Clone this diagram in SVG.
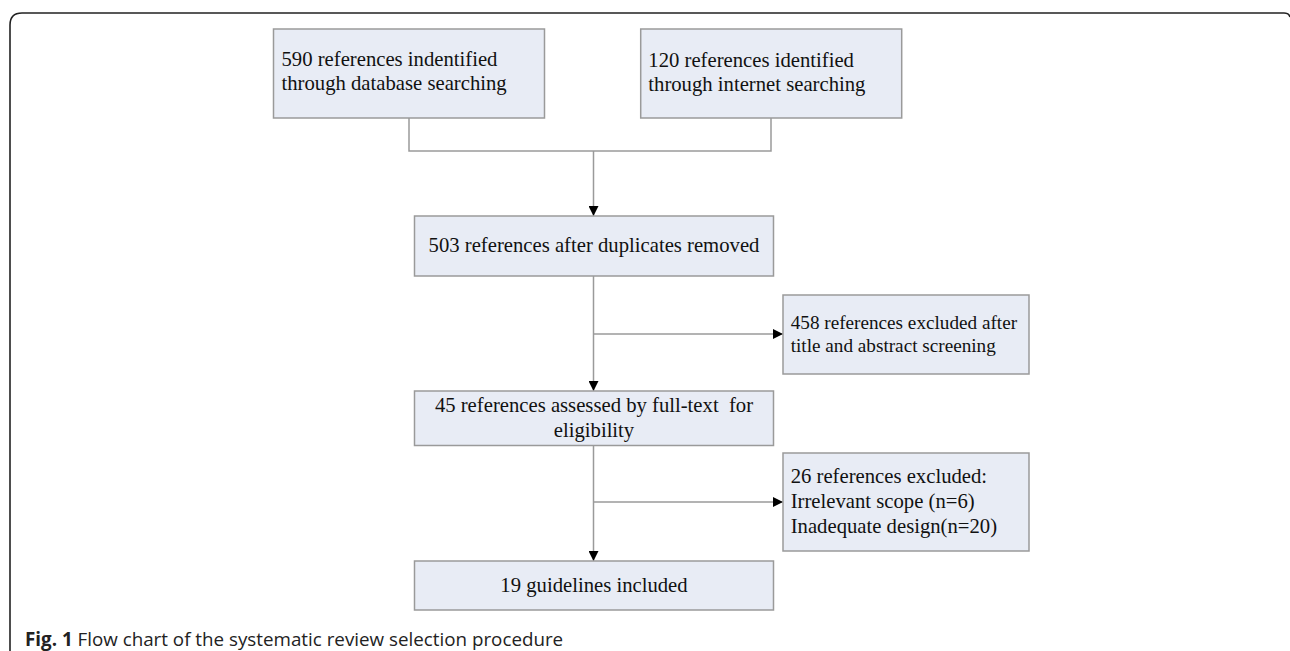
<svg xmlns="http://www.w3.org/2000/svg" width="1290" height="651" viewBox="0 0 1290 651">
<defs>
<style>
.box{fill:#e8ecf5;stroke:#9a9a9a;stroke-width:1.5}
.t{font-family:"Liberation Serif","Times New Roman",serif;font-size:20.7px;fill:#111}
.s{font-size:19.2px}
.c{fill:none;stroke:#9a9a9a;stroke-width:1.5}
.cap{font-family:"Open Sans","Noto Sans",sans-serif;font-size:18.8px;fill:#222}
</style>
<marker id="ah" viewBox="0 0 10 10" refX="10" refY="5" markerWidth="10" markerHeight="10" markerUnits="userSpaceOnUse" orient="auto">
<path d="M0,0 L10,5 L0,10 z" fill="#000"/>
</marker>
</defs>
<rect width="1290" height="651" fill="#fff"/>
<path d="M10,651 V25 Q10,13 22,13 H1284 Q1289,13 1290,17" fill="none" stroke="#222" stroke-width="1.6"/>
<g id="connectors">
<path class="c" d="M409,118 V151 H771 V118"/>
<path class="c" d="M593.5,151 V216" marker-end="url(#ah)"/>
<path class="c" d="M593.5,276 V391" marker-end="url(#ah)"/>
<path class="c" d="M593.5,334 H783" marker-end="url(#ah)"/>
<path class="c" d="M593.5,445 V561" marker-end="url(#ah)"/>
<path class="c" d="M593.5,502 H783" marker-end="url(#ah)"/>
</g>
<g id="n1">
<rect class="box" x="273.5" y="29" width="271" height="89"/>
<text class="t" x="281.5" y="66">590 references indentified</text>
<text class="t" x="281.5" y="90">through database searching</text>
</g>
<g id="n2">
<rect class="box" x="640.7" y="29" width="261" height="89"/>
<text class="t" x="648.3" y="66.5">120 references identified</text>
<text class="t" x="648.3" y="91">through internet searching</text>
</g>
<g id="n3">
<rect class="box" x="414.5" y="216" width="359" height="60"/>
<text class="t" x="594" y="252" text-anchor="middle">503 references after duplicates removed</text>
</g>
<g id="n4">
<rect class="box" x="783" y="295" width="246" height="79"/>
<text class="t s" x="790.7" y="329">458 references excluded after</text>
<text class="t s" x="790.7" y="351.5">title and abstract screening</text>
</g>
<g id="n5">
<rect class="box" x="414.5" y="391" width="359" height="54.5"/>
<text class="t" x="594" y="412" text-anchor="middle" xml:space="preserve">45 references assessed by full-text  for</text>
<text class="t" x="594" y="436.5" text-anchor="middle">eligibility</text>
</g>
<g id="n6">
<rect class="box" x="783" y="453" width="246" height="98"/>
<text class="t" x="790.7" y="483">26 references excluded:</text>
<text class="t" x="790.7" y="508">Irrelevant scope (n=6)</text>
<text class="t" x="790.7" y="533">Inadequate design(n=20)</text>
</g>
<g id="n7">
<rect class="box" x="414.5" y="561" width="359" height="49"/>
<text class="t" x="594" y="592" text-anchor="middle">19 guidelines included</text>
</g>
<text class="cap" x="25" y="646"><tspan font-weight="bold">Fig. 1</tspan> Flow chart of the systematic review selection procedure</text>
</svg>
